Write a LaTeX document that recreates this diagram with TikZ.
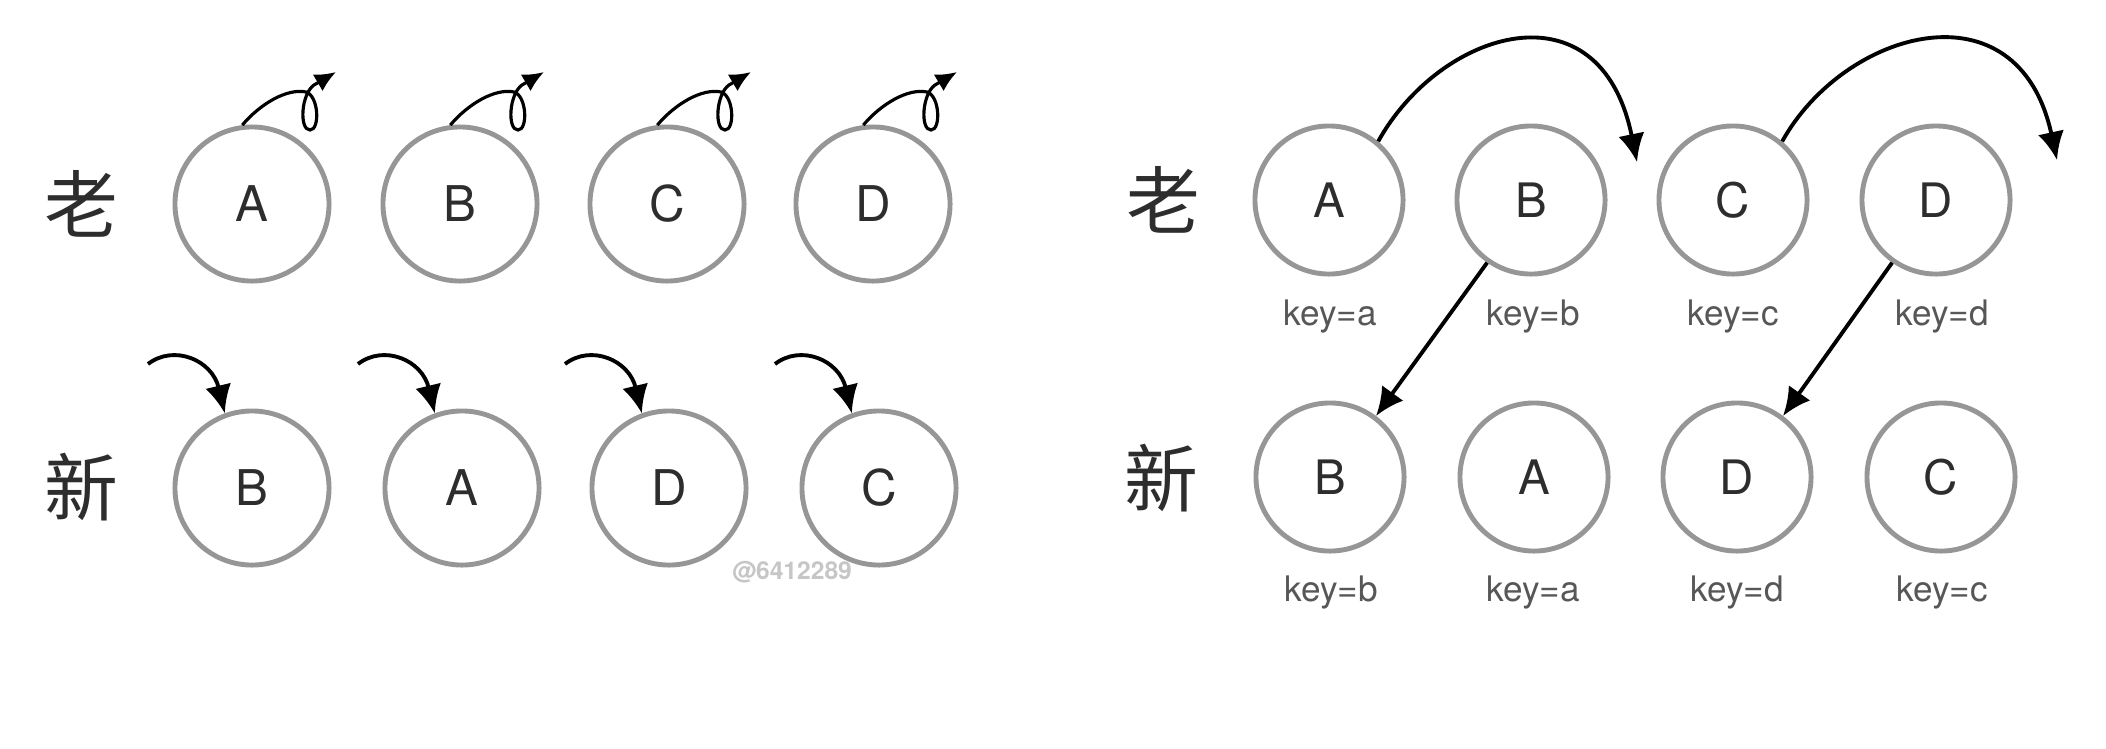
\documentclass[tikz,border=0pt]{standalone}
\usepackage{fontspec}
\setmainfont{TeX Gyre Heros}
\newfontfamily\cjk{Noto Sans CJK SC}
\usetikzlibrary{arrows.meta}
\definecolor{ringgray}{RGB}{150,150,150}
\definecolor{inkgray}{RGB}{45,45,45}
\begin{document}
\begin{tikzpicture}[x=0.01cm, y=-0.01cm,
        ball/.style={draw=ringgray, line width=1.4pt, circle, minimum size=1.54cm, inner sep=0pt, text=inkgray, font=\fontsize{14}{16}\selectfont},
        rball/.style={ball, minimum size=1.48cm, font=\fontsize{13.5}{15}\selectfont},
        keylbl/.style={text=inkgray!80, font=\fontsize{10}{12}\selectfont},
        rowlbl/.style={text=inkgray, font=\cjk\fontsize{21}{24}\selectfont},
        curl/.style={line width=0.9pt, -{Latex[length=6pt,width=5.5pt]}},
        jump/.style={line width=1.1pt, -{Latex[length=8pt,width=7.5pt]}}]
        \useasboundingbox (0,0) rectangle (2106,748);

        % left: nodes
        \node (old) [rowlbl] at (81,204) {老};
        \node (new) [rowlbl] at (81,487) {新};
        \node (oldA) [ball] at (252,204) {A};
        \node (oldB) [ball] at (460,204) {B};
        \node (oldC) [ball] at (667,204) {C};
        \node (oldD) [ball] at (873,204) {D};
        \node (newB) [ball] at (252,488) {B};
        \node (newA) [ball] at (462,488) {A};
        \node (newD) [ball] at (669,488) {D};
        \node (newC) [ball] at (879,488) {C};
        \node (mark) [text=gray!45, font=\bfseries\fontsize{7}{8}\selectfont] at (792,572) {@6412289};

        % left: edges
        \draw[curl, shift={(oldA.center)}] (oldA.97) .. controls (8,-100) and (35,-116) .. (54,-112) .. controls (67,-108) and (68,-74) .. (58,-74) .. controls (47,-74) and (49,-110) .. (62,-119) -- (84,-132);
        \draw[curl, shift={(oldB.center)}] (oldB.97) .. controls (8,-100) and (35,-116) .. (54,-112) .. controls (67,-108) and (68,-74) .. (58,-74) .. controls (47,-74) and (49,-110) .. (62,-119) -- (84,-132);
        \draw[curl, shift={(oldC.center)}] (oldC.97) .. controls (8,-100) and (35,-116) .. (54,-112) .. controls (67,-108) and (68,-74) .. (58,-74) .. controls (47,-74) and (49,-110) .. (62,-119) -- (84,-132);
        \draw[curl, shift={(oldD.center)}] (oldD.97) .. controls (8,-100) and (35,-116) .. (54,-112) .. controls (67,-108) and (68,-74) .. (58,-74) .. controls (47,-74) and (49,-110) .. (62,-119) -- (84,-132);
        \draw[jump, shift={(newB.center)}] (-104,-124) .. controls (-78,-144) and (-40,-128) .. (newB.110);
        \draw[jump, shift={(newA.center)}] (-104,-124) .. controls (-78,-144) and (-40,-128) .. (newA.110);
        \draw[jump, shift={(newD.center)}] (-104,-124) .. controls (-78,-144) and (-40,-128) .. (newD.110);
        \draw[jump, shift={(newC.center)}] (-104,-124) .. controls (-78,-144) and (-40,-128) .. (newC.110);

        % right: nodes
        \node (kold) [rowlbl] at (1163,200) {老};
        \node (knew) [rowlbl] at (1161,478) {新};
        \node (koldA) [rball] at (1329,200) {A};
        \node (koldB) [rball] at (1531,200) {B};
        \node (koldC) [rball] at (1733,200) {C};
        \node (koldD) [rball] at (1936,200) {D};
        \node (knewB) [rball] at (1330,477) {B};
        \node (knewA) [rball] at (1534,477) {A};
        \node (knewD) [rball] at (1737,477) {D};
        \node (knewC) [rball] at (1941,477) {C};

        % right: keys
        \node (kA) [keylbl] at (1330,317) {key=a};
        \node (kB) [keylbl] at (1533,317) {key=b};
        \node (kC) [keylbl] at (1733,317) {key=c};
        \node (kD) [keylbl] at (1942,317) {key=d};
        \node (nkB) [keylbl] at (1331,593) {key=b};
        \node (nkA) [keylbl] at (1533,593) {key=a};
        \node (nkD) [keylbl] at (1737,593) {key=d};
        \node (nkC) [keylbl] at (1942,593) {key=c};

        % right: edges
        \draw[jump, shift={(koldA.center)}] (koldA.50) .. controls (111,-170) and (271,-220) .. (308,-38);
        \draw[jump, shift={(koldC.center)}] (koldC.50) .. controls (111,-170) and (285,-220) .. (324,-40);
        \draw[jump] (koldB.235) -- (knewB.53);
        \draw[jump] (koldD.235) -- (knewD.53);
    \end{tikzpicture}
\end{document}
